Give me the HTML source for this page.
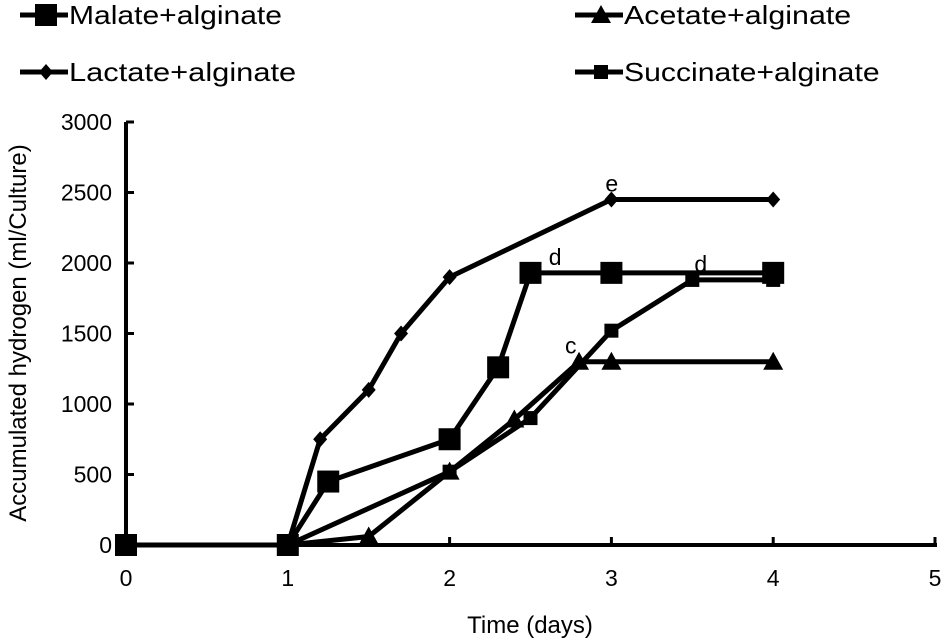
<!DOCTYPE html>
<html><head><meta charset="utf-8"><style>body{margin:0;background:#fff}svg{display:block;font-family:"Liberation Sans",sans-serif}</style></head>
<body>
<svg id="chart" width="944" height="642" viewBox="0 0 944 642">
<g id="legend"></g>
<g id="axes"></g>
<g id="series"></g>
</svg>
<script>
const xTicks=[0,1,2,3,4,5];
const yTicks=[0,500,1000,1500,2000,2500,3000];
const malateX=[0,1,1.25,2,2.3,2.5,3,4];
const malateY=[0,0,450,750,1260,1930,1930,1930];
const lactateX=[0,1,1.2,1.5,1.7,2,3,4];
const lactateY=[0,0,750,1100,1500,1900,2450,2450];
const acetateX=[1,1.5,2,2.4,2.8,3,4];
const acetateY=[0,60,520,890,1300,1300,1300];
const succinateX=[1,2,2.5,3,3.5,4];
const succinateY=[0,520,900,1520,1880,1880];
const annX=[3,2.65,3.55,2.75];
const annY=[2450,1930,1880,1300];
const annText=['e','d','d','c'];

const NS='http://www.w3.org/2000/svg';
const sx=v=>126+v*161.8;
const sy=v=>545-v*0.141;
function el(tag,attrs,parent){const e=document.createElementNS(NS,tag);for(const k in attrs)e.setAttribute(k,attrs[k]);parent.appendChild(e);return e;}
const axes=document.getElementById('axes'),series=document.getElementById('series'),legend=document.getElementById('legend');

let a=el('line',{x1:sx(0),y1:sy(0),x2:sx(5)+2,y2:sy(0),stroke:'#000','stroke-width':4},axes);

a=el('line',{x1:sx(0),y1:sy(0)+2,x2:sx(0),y2:sy(3000),stroke:'#000','stroke-width':4},axes);

xTicks.forEach(t=>{
 let l=el('line',{x1:sx(t),y1:sy(0),x2:sx(t),y2:sy(0)-8,stroke:'#000','stroke-width':3},axes);
 
 let tx=el('text',{x:sx(t),y:586,'text-anchor':'middle','font-size':23},axes);tx.textContent=t;
 
});
yTicks.forEach(t=>{
 let l=el('line',{x1:sx(0),y1:sy(t),x2:sx(0)+8,y2:sy(t),stroke:'#000','stroke-width':3},axes);
 
 let tx=el('text',{x:112,y:sy(t)+8,'text-anchor':'end','font-size':23},axes);tx.textContent=t;
 
});
let xt=el('text',{x:530,y:633,'text-anchor':'middle','font-size':24},axes);xt.textContent='Time (days)';

let yt=el('text',{x:0,y:0,'text-anchor':'middle','font-size':24,transform:'translate(26,333) rotate(-90)'},axes);yt.textContent='Accumulated hydrogen (ml/Culture)';


function marker(type,x,y,g){
 if(type==='bigsq')return el('rect',{x:x-11,y:y-11,width:22,height:22,fill:'#000'},g);
 if(type==='smsq')return el('rect',{x:x-7,y:y-7,width:14,height:14,fill:'#000'},g);
 if(type==='diamond')return el('polygon',{points:`${x},${y-8} ${x+7},${y} ${x},${y+8} ${x-7},${y}`,fill:'#000'},g);
 return el('polygon',{points:`${x},${y-10} ${x+10},${y+8} ${x-10},${y+8}`,fill:'#000'},g);
}
function drawSeries(name,xs,ys,type){
 const g=el('g',{},series);
 
 const p=el('polyline',{points:xs.map((x,i)=>sx(x)+','+sy(ys[i])).join(' '),fill:'none',stroke:'#000','stroke-width':5,'stroke-linejoin':'round'},g);
 
 xs.forEach((x,i)=>{const m=marker(type,sx(x),sy(ys[i]),g);
  });
}
drawSeries('acetate',acetateX,acetateY,'tri');
drawSeries('succinate',succinateX,succinateY,'smsq');
drawSeries('lactate',lactateX,lactateY,'diamond');
drawSeries('malate',malateX,malateY,'bigsq');
annX.forEach((x,i)=>{let t=el('text',{x:sx(x)-6,y:sy(annY[i])-8,'font-size':23},series);t.textContent=annText[i];
 });

const legNames=['Malate+alginate','Acetate+alginate','Lactate+alginate','Succinate+alginate'];
const legTypes=['bigsq','tri','diamond','smsq'];
const legPos=[[20,15],[575,15],[20,72],[575,72]];
legNames.forEach((n,i)=>{
 const [x,y]=legPos[i];
 const g=el('g',{},legend);
 
 el('line',{x1:x,y1:y,x2:x+48,y2:y,stroke:'#000','stroke-width':5},g);
 marker(legTypes[i],x+26,y,g);
 const t=el('text',{x:x+49,y:y+9,'font-size':26,textLength:n.length*14.2,lengthAdjust:'spacingAndGlyphs'},g);t.textContent=n;
});
</script>
</body></html>
